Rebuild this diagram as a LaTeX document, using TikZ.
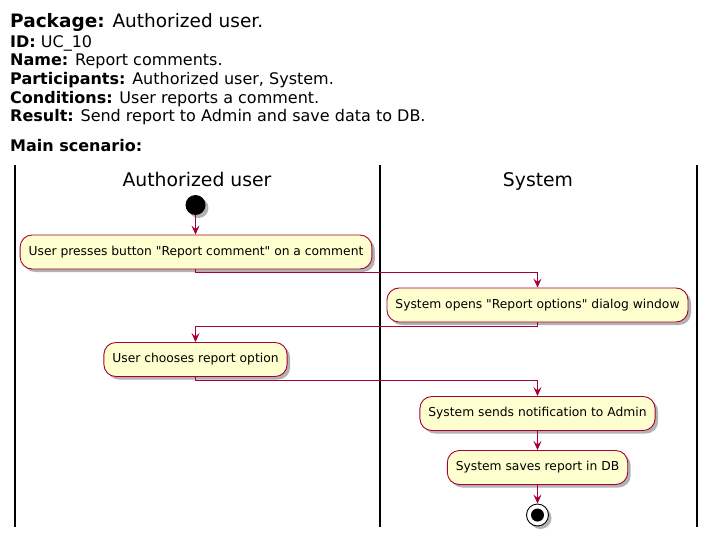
\documentclass[tikz,border=0pt]{standalone}
\usepackage{fontspec}
\setmainfont{DejaVu Sans}[Ligatures=TeXOff]
\usetikzlibrary{positioning, shadows, arrows.meta}
\definecolor{umlRed}{HTML}{A80036}
\definecolor{umlYellow}{HTML}{FEFECE}

\begin{document}
\begin{tikzpicture}[
    x = 1pt, y = -1pt,
    actNode/.append style = {draw = umlRed, fill = umlYellow, rounded corners = 12pt, minimum height = 34pt, inner xsep = 8.5pt, line width = 0.9pt, font = \fontsize{12.3}{14}\selectfont, drop shadow = {shadow xshift = 3pt, shadow yshift = -3pt, fill = black, opacity = 0.3}},
    flowArrow/.append style = {-{Stealth[length = 9pt, width = 8pt, inset = 3.5pt]}, color = umlRed, line width = 1pt},
    laneLine/.append style = {line width = 1.3pt},
    headText/.append style = {anchor = base west, inner sep = 0pt, font = \fontsize{16}{19}\selectfont},
    laneTitle/.append style = {anchor = base, inner sep = 0pt, font = \fontsize{18.8}{22}\selectfont}
    ]
      \useasboundingbox (0, 0) rectangle (716, 542);

      %% Header
      \node[headText, font = \fontsize{18.5}{22}\selectfont] (package) at (10, 27) {\textbf{Package:} Authorized user.};
      \node[headText] (ident) at (10, 47) {\textbf{ID:} UC\_10};
      \node[headText] (name) at (10, 65) {\textbf{Name:} Report comments.};
      \node[headText] (participants) at (10, 84) {\textbf{Participants:} Authorized user, System.};
      \node[headText] (conditions) at (10, 103) {\textbf{Conditions:} User reports a comment.};
      \node[headText] (result) at (10, 121) {\textbf{Result:} Send report to Admin and save data to DB.};
      \node[headText] (scenario) at (10, 151) {\textbf{Main scenario:}};

      %% Swimlanes
      \draw[laneLine] (15, 165) -- (15, 527);
      \draw[laneLine] (380, 165) -- (380, 527);
      \draw[laneLine] (697, 165) -- (697, 527);
      \node[laneTitle] (userLane) at (197, 186) {Authorized user};
      \node[laneTitle] (systemLane) at (538, 186) {System};

      %% Activities
      \node[circle, fill = black, minimum size = 20pt, inner sep = 0pt, drop shadow = {shadow xshift = 3pt, shadow yshift = -3pt, fill = black, opacity = 0.3}] (start) at (195.5, 205) {};
      \node[actNode] (press) at (196, 252) {User presses button "Report comment" on a comment};
      \node[actNode] (opens) at (537.5, 305) {System opens "Report options" dialog window};
      \node[actNode] (choose) at (195.5, 359.5) {User chooses report option};
      \node[actNode] (notify) at (537.5, 413.5) {System sends notification to Admin};
      \node[actNode] (save) at (537.5, 467.5) {System saves report in DB};
      \node[circle, draw = black, fill = white, line width = 0.9pt, minimum size = 22pt, inner sep = 0pt, drop shadow = {shadow xshift = 3pt, shadow yshift = -3pt, fill = black, opacity = 0.3}] (stop) at (537.5, 515) {};
      \node[circle, fill = black, minimum size = 13pt, inner sep = 0pt] (stopDot) at (stop) {};

      %% Arrows
      \draw[flowArrow] (start) -- (start |- press.north);
      \draw[flowArrow] (start |- press.south) -- ++(0, 3.5) -| (opens.north);
      \draw[flowArrow] (opens.south) -- ++(0, 4.5) -| (choose.north);
      \draw[flowArrow] (choose.south) -- ++(0, 4) -| (notify.north);
      \draw[flowArrow] (notify) -- (save);
      \draw[flowArrow] (save) -- (stop);
    \end{tikzpicture}
\end{document}
